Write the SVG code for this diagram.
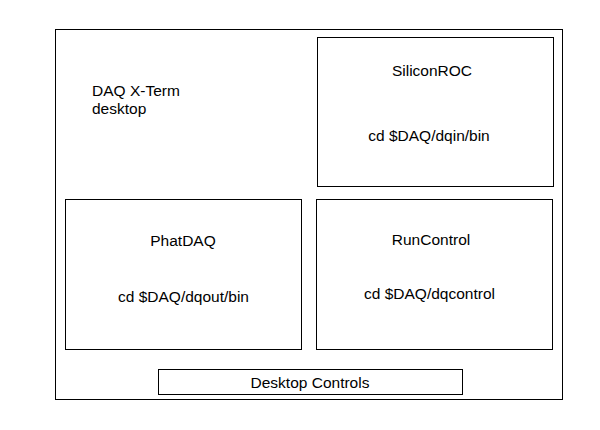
<svg xmlns="http://www.w3.org/2000/svg" width="600" height="430" viewBox="0 0 600 430">
<style>
rect{fill:none;stroke:#000;stroke-width:1}
text{font-family:"Liberation Sans",Arial,sans-serif;font-size:15.5px;fill:#000}
.c{text-anchor:middle}
</style>
<rect x="0" y="0" width="600" height="430" style="fill:#fff;stroke:none"/>
<g id="desktop">
<rect x="55.5" y="29.5" width="507" height="370"/>
<text x="92" y="96">DAQ X-Term</text>
<text x="92" y="114">desktop</text>
</g>
<g id="siliconroc">
<rect x="317.5" y="37.5" width="236" height="149"/>
<text class="c" x="432" y="76">SiliconROC</text>
<text class="c" x="429" y="141">cd $DAQ/dqin/bin</text>
</g>
<g id="phatdaq">
<rect x="65.5" y="199.5" width="236" height="150"/>
<text class="c" x="183" y="246">PhatDAQ</text>
<text class="c" x="183.5" y="302">cd $DAQ/dqout/bin</text>
</g>
<g id="runcontrol">
<rect x="316.5" y="199.5" width="236" height="150"/>
<text class="c" x="431" y="244.5">RunControl</text>
<text class="c" x="429.5" y="299">cd $DAQ/dqcontrol</text>
</g>
<g id="desktop-controls">
<rect x="158.5" y="369.5" width="304" height="25"/>
<text class="c" x="310" y="388">Desktop Controls</text>
</g>
<g id="connectors"/>
</svg>
